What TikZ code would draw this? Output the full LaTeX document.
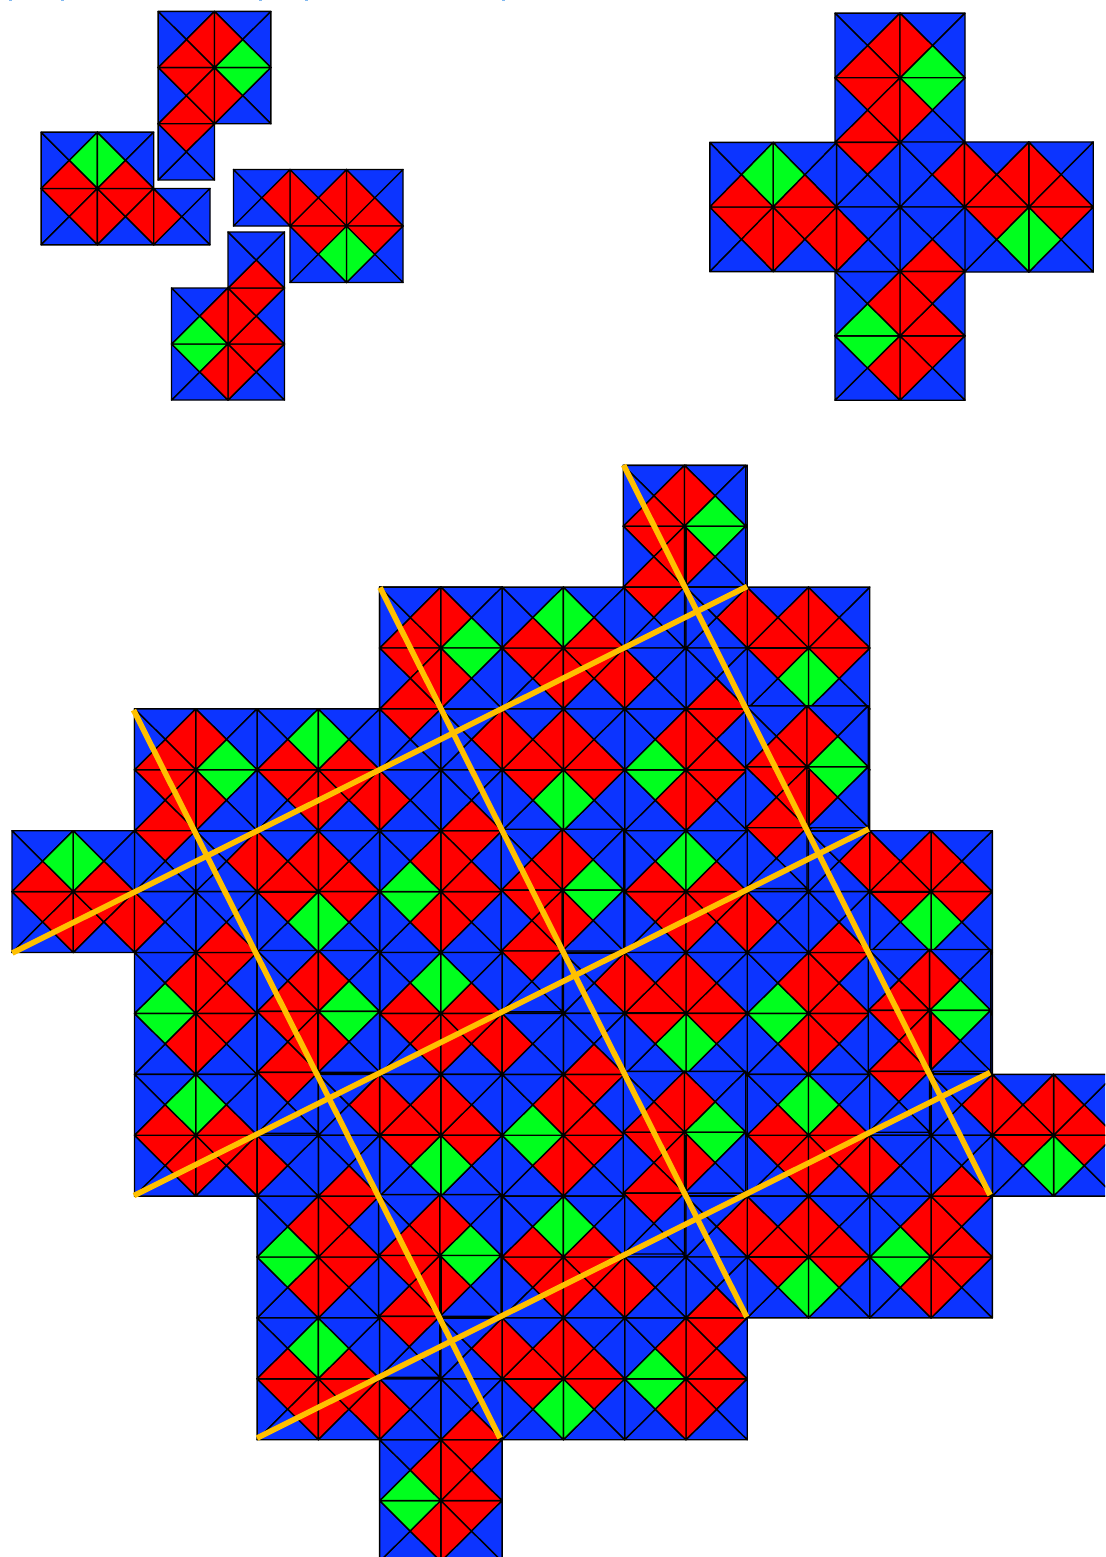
\documentclass[tikz,border=0pt]{standalone}
\definecolor{bl}{RGB}{12,52,255}
\definecolor{rd}{RGB}{255,0,0}
\definecolor{gr}{RGB}{0,255,30}
\definecolor{yl}{RGB}{255,192,0}
\definecolor{linkmark}{RGB}{130,185,240}
\tikzset{
  tri/.style={draw=black,line width=1.4pt,line join=round},
  seam/.style={draw=black,line width=2pt},
  cut/.style={draw=yl,line width=5.6pt}
}
% one unit square with its four triangles: col, row, north, east, south, west
\newcommand{\utile}[6]{%
  \filldraw[tri,fill=#3] (#1,#2) -- (#1+1,#2) -- (#1+.5,#2+.5) -- cycle;
  \filldraw[tri,fill=#4] (#1+1,#2) -- (#1+1,#2+1) -- (#1+.5,#2+.5) -- cycle;
  \filldraw[tri,fill=#5] (#1+1,#2+1) -- (#1,#2+1) -- (#1+.5,#2+.5) -- cycle;
  \filldraw[tri,fill=#6] (#1,#2+1) -- (#1,#2) -- (#1+.5,#2+.5) -- cycle;
}
% five squares of one quarter of the cross
\newcommand{\pentomino}{%
  \utile{-1}{-3}{bl}{rd}{rd}{bl}
  \utile{0}{-3}{bl}{bl}{gr}{rd}
  \utile{-1}{-2}{rd}{rd}{rd}{bl}
  \utile{0}{-2}{gr}{bl}{bl}{rd}
  \utile{-1}{-1}{rd}{bl}{bl}{bl}
}
% rotation 0..3 (quarter turns clockwise), centre x, y in px, unit sx, sy
\newcommand{\quarter}[5]{%
  \ifcase#1\relax
    \begin{scope}[shift={(#2pt,-#3pt)},x={(#4pt,0pt)},y={(0pt,-#5pt)}]\pentomino\end{scope}
  \or
    \begin{scope}[shift={(#2pt,-#3pt)},x={(0pt,-#5pt)},y={(-#4pt,0pt)}]\pentomino\end{scope}
  \or
    \begin{scope}[shift={(#2pt,-#3pt)},x={(-#4pt,0pt)},y={(0pt,#5pt)}]\pentomino\end{scope}
  \or
    \begin{scope}[shift={(#2pt,-#3pt)},x={(0pt,#5pt)},y={(#4pt,0pt)}]\pentomino\end{scope}
  \fi
}
\newcommand{\gx}[1]{\pgfmathsetmacro{\px}{12+61.27*(#1)}}
\newcommand{\gy}[1]{\pgfmathsetmacro{\py}{465.3+60.9*(#1)}}
\begin{document}
\begin{tikzpicture}
\useasboundingbox (0pt,0pt) rectangle (1105pt,-1557pt);
\fill[white] (0pt,0pt) rectangle (1105pt,-1557pt);
\clip (0pt,0pt) rectangle (1105pt,-1557pt);
% remnants at the upper edge
\foreach \m in {10,62,260,306,503}{\fill[linkmark] (\m pt-1.5pt,0pt) rectangle (\m pt+1.5pt,-1.5pt);}
% exploded cross
\quarter{0}{214.5}{180}{56.4}{56.2}
\quarter{1}{233.5}{226}{56.5}{56.5}
\quarter{2}{228}{232}{56.5}{56}
\quarter{3}{210}{188.5}{56.3}{56.3}
% assembled cross
\quarter{0}{900}{207}{65}{64.6}
\quarter{1}{900}{207}{64.4}{65}
\quarter{2}{900}{207}{65}{64.4}
\quarter{3}{900}{207}{63.4}{64.6}
% tiled crosses: top of the upper arm at column a, row b; shift of the upper quarter
\foreach \a/\b/\ox/\oy in {10/0/-1.5/0,6/2/0/0,2/4/0/0,12/4/-1.5/-3,8/6/-1/-1.5,4/8/0/-2,14/8/-1.5/-3,10/10/-1.5/-3,6/12/-1/-1.5}{
  \gx{\a+1}\gy{\b+3}
  \pgfmathsetmacro{\qx}{\px+\ox}
  \pgfmathsetmacro{\qy}{\py+\oy}
  \quarter{0}{\px}{\py}{61.27}{60.9}
  \quarter{0}{\qx}{\qy}{61.27}{60.9}
  \foreach \r in {1,2,3}{\quarter{\r}{\px}{\py}{61.27}{60.9}}
  \begin{scope}[shift={(\px pt,-\py pt)},x={(61.27pt,0pt)},y={(0pt,-60.9pt)}]
    \draw[seam] (0,-2) -- (0,-1);
    \draw[seam] (0,-1) -- (1,-1);
    \draw[seam] (1,0) -- (2,0);
  \end{scope}
}
% cutting lines
\foreach \n/\c/\d in {a/12.3/953,b/747/586.5,c/134/1195.5,d/868.5/829,e/257/1438,f/990/1072.5,g/133.5/710,h/500/1438,i/380/587.5,j/746.7/1317,k/623.5/465,l/990/1195}{
  \coordinate (\n) at (\c pt,-\d pt);
}
\foreach \p/\q in {a/b,c/d,e/f,g/h,i/j,k/l}{\draw[cut] (\p) -- (\q);}
\end{tikzpicture}
\end{document}
